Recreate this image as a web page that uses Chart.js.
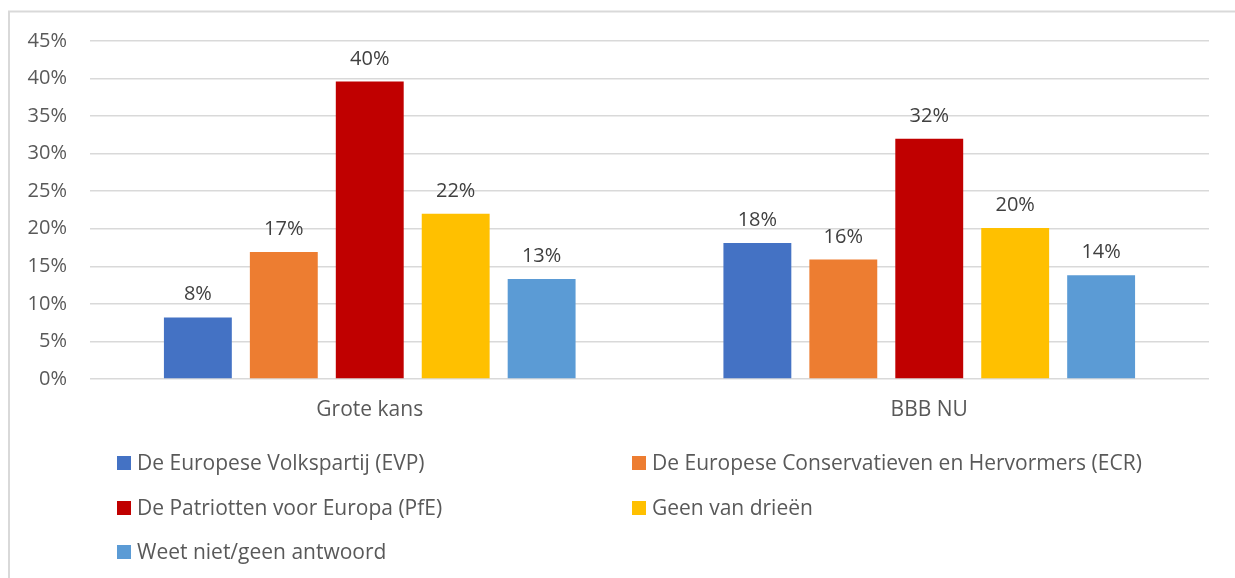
<!DOCTYPE html>
<html>
<head>
<meta charset="utf-8">
<script src="https://cdn.jsdelivr.net/npm/chart.js@4.4.1/dist/chart.umd.min.js"></script>
<style>
  html, body { margin: 0; padding: 0; background: #ffffff; }
  #wrap { position: relative; width: 1235px; height: 578px; }
  canvas { display: block; }
</style>
</head>
<body>
<div id="wrap"><canvas id="c" width="1235" height="578"></canvas></div>
<script>
const categories = ["Grote kans", "BBB NU"];
const seriesNames = [
  "De Europese Volkspartij (EVP)",
  "De Europese Conservatieven en Hervormers (ECR)",
  "De Patriotten voor Europa (PfE)",
  "Geen van drieën",
  "Weet niet/geen antwoord"
];
const evp = [8.2, 18.1];
const ecr = [16.9, 15.9];
const pfe = [39.6, 32.0];
const geen = [22.0, 20.1];
const weetNiet = [13.3, 13.8];
const seriesColors = ["#4472C4", "#ED7D31", "#C00000", "#FFC000", "#5B9BD5"];
const yTicks = [0, 5, 10, 15, 20, 25, 30, 35, 40, 45];

const FONT = "'Open Sans', 'Noto Sans', sans-serif";
const allValues = [evp, ecr, pfe, geen, weetNiet];

const frameAndLabels = {
  id: 'frameAndLabels',
  beforeDraw(chart) {
    const ctx = chart.ctx;
    ctx.save();
    ctx.fillStyle = '#ffffff';
    ctx.fillRect(0, 0, chart.width, chart.height);
    ctx.strokeStyle = '#d9d9d9';
    ctx.lineWidth = 2;
    ctx.beginPath();
    ctx.moveTo(9, chart.height);
    ctx.lineTo(9, 11.5);
    ctx.lineTo(chart.width, 11.5);
    ctx.stroke();
    ctx.restore();
  },
  afterDatasetsDraw(chart) {
    const ctx = chart.ctx;
    ctx.save();
    ctx.font = '20px ' + FONT;
    ctx.fillStyle = '#404040';
    ctx.textAlign = 'center';
    ctx.textBaseline = 'alphabetic';
    chart.data.datasets.forEach((ds, i) => {
      const meta = chart.getDatasetMeta(i);
      meta.data.forEach((bar, j) => {
        ctx.fillText(Math.round(ds.data[j]) + '%', bar.x, bar.y - 17);
      });
    });
    ctx.restore();
  },
  afterDraw(chart) {
    const ctx = chart.ctx;
    ctx.save();
    ctx.font = '21px ' + FONT;
    ctx.textBaseline = 'middle';
    ctx.textAlign = 'left';
    const cols = [117, 632];
    const rows = [463, 508, 552];
    chart.data.datasets.forEach((ds, i) => {
      const x = cols[i % 2];
      const y = rows[Math.floor(i / 2)];
      ctx.fillStyle = ds.backgroundColor;
      ctx.fillRect(x, y - 7, 14, 14);
      ctx.fillStyle = '#595959';
      ctx.fillText(ds.label, x + 20, y + 1);
    });
    ctx.restore();
  }
};

new Chart(document.getElementById('c'), {
  type: 'bar',
  data: {
    labels: categories,
    datasets: seriesNames.map((name, i) => ({
      label: name,
      data: allValues[i],
      backgroundColor: seriesColors[i],
      borderWidth: 0,
      barPercentage: 0.79,
      categoryPercentage: 0.768
    }))
  },
  options: {
    responsive: false,
    animation: false,
    devicePixelRatio: 1,
    layout: { padding: { top: 41, right: 26, left: 0, bottom: 0 } },
    plugins: {
      legend: { display: false },
      tooltip: { enabled: false }
    },
    scales: {
      x: {
        grid: { display: false, drawTicks: false },
        border: { display: false },
        ticks: { color: '#595959', font: { family: FONT, size: 21 }, padding: 18 },
        afterFit(s) { s.height = 199; }
      },
      y: {
        min: 0,
        max: 45,
        afterBuildTicks(s) { s.ticks = yTicks.map(v => ({ value: v })); },
        grid: { color: '#d9d9d9', lineWidth: 1.5, drawTicks: false },
        border: { display: false },
        ticks: {
          color: '#595959',
          font: { family: FONT, size: 20 },
          padding: 23,
          callback: v => v + '%'
        },
        afterFit(s) { s.width = 90; }
      }
    }
  },
  plugins: [frameAndLabels]
});
</script>
</body>
</html>
